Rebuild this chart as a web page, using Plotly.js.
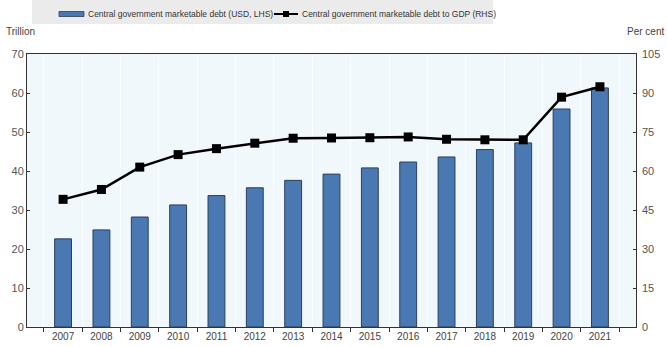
<!DOCTYPE html>
<html>
<head>
<meta charset="utf-8">
<script src="https://cdn.plot.ly/plotly-3.0.1.min.js"></script>
<style>html,body{margin:0;padding:0;background:#fff;}#chart{width:667px;height:347px;}</style>
</head>
<body>
<div id="chart"></div>
<script>
const years = ['2007','2008','2009','2010','2011','2012','2013','2014','2015','2016','2017','2018','2019','2020','2021'];
const debtUSD = [22.6, 24.9, 28.2, 31.3, 33.7, 35.7, 37.6, 39.2, 40.8, 42.3, 43.6, 45.5, 47.2, 55.9, 61.3];
const debtToGDP = [49.1, 52.9, 61.5, 66.3, 68.6, 70.7, 72.6, 72.7, 72.8, 73.1, 72.2, 72.0, 72.0, 88.4, 92.4];
const leftTicks = [0,10,20,30,40,50,60,70];
const rightTicks = [0,15,30,45,60,75,90,105];
const seriesNames = ['Central government marketable debt (USD, LHS)', 'Central government marketable debt to GDP (RHS)'];

const font = "Liberation Sans, Arial, sans-serif";
const barColor = '#4a78b3';

const traces = [
  {
    type: 'bar', x: years, y: debtUSD, name: seriesNames[0],
    marker: {color: barColor, line: {color: '#2b3f5c', width: 1}},
    width: 0.44, yaxis: 'y'
  },
  {
    type: 'scatter', mode: 'lines+markers', x: years, y: debtToGDP,
    name: seriesNames[1],
    line: {color: '#000', width: 2.5},
    marker: {symbol: 'square', size: 9, color: '#000'},
    yaxis: 'y2'
  }
];

// legend drawn manually in paper coordinates (plot area: x 27..636 px, y 54..327 px)
const px = v => (v - 27) / 609;
const py = v => (327 - v) / 273;

const layout = {
  width: 667, height: 347,
  margin: {l: 27, r: 31, t: 54, b: 20},
  paper_bgcolor: '#fff', plot_bgcolor: '#f1f8fb',
  font: {family: font, size: 10, color: '#444'},
  showlegend: false,
  bargap: 0.5,
  xaxis: {type: 'category', tickson: 'boundaries', ticks: 'outside', ticklen: 4, tickcolor: '#333',
          showline: true, linecolor: '#333', linewidth: 1, mirror: true, showgrid: true,
          gridcolor: '#fafdfe', gridwidth: 1, tickfont: {size: 10, color: '#444'}},
  yaxis: {range: [0, 70], tickvals: leftTicks, ticks: 'inside', ticklen: 3, tickcolor: '#333',
          showline: true, linecolor: '#333', linewidth: 1, mirror: true, showgrid: false, zeroline: false,
          tickfont: {size: 11, color: '#555'}},
  yaxis2: {range: [0, 105], tickvals: rightTicks, overlaying: 'y', side: 'right', ticks: 'inside',
           ticklen: 3, tickcolor: '#333', showgrid: false, zeroline: false, ticklabelstandoff: 5,
           tickfont: {size: 11, color: '#555'}},
  shapes: [
    {type: 'rect', xref: 'paper', yref: 'paper', x0: px(32), x1: px(493), y0: py(24), y1: py(0),
     fillcolor: '#ebebeb', line: {width: 0}, layer: 'below'},
    {type: 'rect', xref: 'paper', yref: 'paper', x0: px(59), x1: px(84), y0: py(16.5), y1: py(11.5),
     fillcolor: barColor, line: {color: '#2b3f5c', width: 0.8}},
    {type: 'line', xref: 'paper', yref: 'paper', x0: px(274), x1: px(298), y0: py(14), y1: py(14),
     line: {color: '#000', width: 2}},
    {type: 'rect', xref: 'paper', yref: 'paper', x0: px(283), x1: px(289), y0: py(17), y1: py(11),
     fillcolor: '#000', line: {width: 0}}
  ],
  annotations: [
    {text: seriesNames[0], xref: 'paper', yref: 'paper', x: px(86), y: py(14), xanchor: 'left', yanchor: 'middle',
     showarrow: false, font: {size: 8.5, color: '#333'}},
    {text: seriesNames[1], xref: 'paper', yref: 'paper', x: px(300), y: py(14), xanchor: 'left', yanchor: 'middle',
     showarrow: false, font: {size: 8.5, color: '#333'}},
    {text: 'Trillion', xref: 'paper', yref: 'paper', x: px(4), y: py(31), xanchor: 'left', yanchor: 'middle',
     showarrow: false, font: {size: 10, color: '#444'}},
    {text: 'Per cent', xref: 'paper', yref: 'paper', x: px(666), y: py(31), xanchor: 'right', yanchor: 'middle',
     showarrow: false, font: {size: 10, color: '#444'}}
  ]
};

Plotly.newPlot('chart', traces, layout, {displayModeBar: false, staticPlot: true});
</script>
</body>
</html>
